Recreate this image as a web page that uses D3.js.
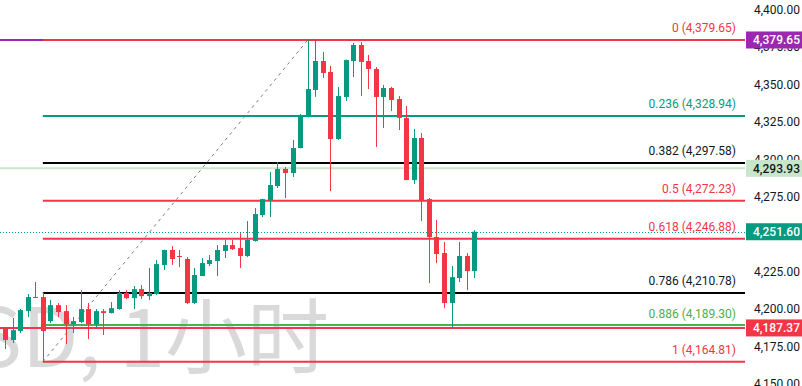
<!DOCTYPE html>
<html>
<head>
<meta charset="utf-8">
<script src="https://cdn.jsdelivr.net/npm/d3@7"></script>
<style>
  body { margin: 0; background: #fff; }
  svg { display: block; font-family: Roboto, "Noto Sans CJK SC", sans-serif; }
</style>
</head>
<body>
<div id="chart"></div>
<script>
// candles (hourly)
var openP  = [4175.9,4187.3,4179.3,4185.3,4198.6,4207.6,4208.0,4191.9,4202.6,4198.6,4189.9,4191.3,4200.0,4189.9,4198.6,4197.3,4200.0,4210.7,4207.3,4213.3,4208.6,4210.0,4229.4,4239.4,4235.4,4233.4,4204.0,4222.0,4230.0,4232.0,4238.7,4242.7,4240.7,4235.4,4245.4,4262.8,4272.8,4282.1,4293.5,4290.8,4307.5,4328.2,4346.3,4365.6,4358.3,4313.5,4341.6,4365.6,4376.3,4365.6,4360.3,4341.6,4347.6,4340.2,4327.6,4286.1,4314.2,4273.4,4248.1,4237.4,4204.0,4220.7,4235.4,4225.3];
var highP  = [4188.6,4187.9,4194.0,4200.0,4210.0,4218.0,4211.0,4206.0,4204.0,4202.6,4194.6,4212.6,4204.0,4200.0,4200.0,4204.6,4212.6,4212.6,4215.3,4216.0,4227.4,4232.7,4239.6,4242.0,4239.4,4234.7,4227.4,4234.0,4236.0,4242.7,4246.1,4246.1,4250.7,4258.7,4267.4,4273.6,4291.5,4298.2,4294.8,4312.9,4330.2,4379.65,4379.5,4371.6,4362.3,4348.3,4366.5,4377.7,4378.3,4369.6,4361.6,4349.6,4348.3,4342.2,4335.6,4320.2,4317.5,4274.1,4259.4,4244.7,4228.7,4244.7,4237.4,4252.7];
var lowP   = [4173.9,4173.3,4177.3,4183.9,4194.6,4207.4,4164.81,4190.6,4194.6,4176.6,4183.9,4190.6,4179.9,4187.3,4182.6,4197.0,4199.6,4206.6,4200.0,4206.6,4206.0,4209.3,4226.0,4229.4,4228.0,4203.3,4203.3,4222.0,4228.7,4222.0,4234.0,4239.4,4227.4,4234.7,4245.0,4261.4,4261.4,4280.8,4274.1,4288.1,4307.3,4328.0,4341.6,4354.3,4278.8,4312.9,4338.9,4354.9,4342.2,4346.9,4308.2,4320.9,4332.2,4319.5,4286.0,4283.5,4258.7,4217.3,4230.7,4200.6,4187.3,4218.0,4212.6,4220.7];
var closeP = [4185.9,4179.3,4185.9,4199.3,4208.0,4208.0,4185.3,4202.6,4198.0,4189.9,4191.9,4200.0,4189.9,4198.6,4197.3,4200.6,4210.7,4207.3,4213.3,4208.6,4210.7,4230.0,4239.4,4233.4,4235.0,4204.0,4222.7,4230.7,4232.7,4239.4,4242.7,4240.0,4235.4,4246.1,4263.4,4273.4,4282.8,4293.5,4290.8,4307.5,4328.9,4346.9,4365.6,4357.6,4313.5,4342.2,4366.3,4376.3,4365.0,4360.3,4341.6,4347.6,4339.6,4327.6,4286.1,4314.2,4272.1,4248.1,4236.7,4204.0,4221.3,4235.4,4225.3,4251.6];

// fibonacci retracement
var fibRatios = [0, 0.236, 0.382, 0.5, 0.618, 0.786, 0.886, 1];
var fibPrices = [4379.65, 4328.94, 4297.58, 4272.23, 4246.88, 4210.78, 4189.30, 4164.81];
var fibColors = ["#f23645", "#089981", "#000000", "#f23645", "#f23645", "#000000", "#4caf50", "#f23645"];
var fibTextColors = ["#f23645", "#089981", "#131722", "#f23645", "#f23645", "#131722", "#4caf50", "#f23645"];
var swingLowIdx = 6, swingHighIdx = 41;

// price lines / tags on the axis
var tagPrices = [4379.65, 4293.93, 4251.60, 4187.37];
var tagFill   = ["#9c27b0", "#c8e6c9", "#089981", "#f23645"];
var tagText   = ["#ffffff", "#131722", "#ffffff", "#ffffff"];

var yTicks = [4150, 4175, 4200, 4225, 4250, 4275, 4300, 4325, 4350, 4375, 4400];

var width = 802, height = 386, plotRight = 745;
var upColor = "#089981", downColor = "#f23645";

var x = d3.scaleLinear().domain([0, openP.length - 1]).range([-2.57, 474.3]);
var y = d3.scaleLinear().domain([4150, 4400]).range([383.9, 9.5]);
var fmt = d3.format(",.2f");

var svg = d3.select("#chart").append("svg")
  .attr("width", width).attr("height", height);

svg.append("defs").append("clipPath").attr("id", "plot")
  .append("rect").attr("x", 0).attr("y", 0).attr("width", plotRight).attr("height", height);

// watermark
svg.append("text")
  .attr("x", 329).attr("y", 367)
  .attr("text-anchor", "end")
  .attr("font-family", "'Noto Sans CJK SC', sans-serif")
  .attr("font-size", 82)
  .attr("fill", "#d9d9d9")
  .text("XAUUSD, 1小时");

var plot = svg.append("g").attr("clip-path", "url(#plot)");

// full width price lines
plot.append("line").attr("x1", 0).attr("x2", plotRight)
  .attr("y1", y(tagPrices[0])).attr("y2", y(tagPrices[0]))
  .attr("stroke", tagFill[0]).attr("stroke-width", 2);
plot.append("line").attr("x1", 0).attr("x2", plotRight)
  .attr("y1", y(tagPrices[1])).attr("y2", y(tagPrices[1]))
  .attr("stroke", tagFill[1]).attr("stroke-width", 2);
plot.append("line").attr("x1", 0).attr("x2", plotRight)
  .attr("y1", Math.round(y(tagPrices[2])) + 0.5).attr("y2", Math.round(y(tagPrices[2])) + 0.5)
  .attr("stroke", tagFill[2]).attr("stroke-width", 1).attr("stroke-dasharray", "1,2");
plot.append("line").attr("x1", 0).attr("x2", plotRight)
  .attr("y1", y(tagPrices[3])).attr("y2", y(tagPrices[3]))
  .attr("stroke", tagFill[3]).attr("stroke-width", 2);

// fib levels
var fibX0 = x(swingLowIdx);
plot.selectAll("line.fib").data(fibPrices).join("line")
  .attr("class", "fib")
  .attr("x1", fibX0).attr("x2", plotRight)
  .attr("y1", d => y(d)).attr("y2", d => y(d))
  .attr("stroke", (d, i) => fibColors[i]).attr("stroke-width", 2);

svg.selectAll("text.fib").data(fibPrices).join("text")
  .attr("class", "fib")
  .attr("x", 736).attr("y", d => y(d) - 7.5)
  .attr("text-anchor", "end")
  .attr("font-size", 12)
  .attr("fill", (d, i) => fibTextColors[i])
  .text((d, i) => fibRatios[i] + " (" + fmt(d) + ")");

// trend line
plot.append("line")
  .attr("x1", x(swingLowIdx)).attr("y1", y(lowP[swingLowIdx]))
  .attr("x2", x(swingHighIdx)).attr("y2", y(highP[swingHighIdx]))
  .attr("stroke", "#787b86").attr("stroke-width", 1).attr("stroke-dasharray", "3,4");

// candles
var idx = d3.range(openP.length);
var bodyW = 5;
var candles = plot.append("g").selectAll("g").data(idx).join("g")
  .attr("fill", i => closeP[i] >= openP[i] ? upColor : downColor)
  .attr("stroke", i => closeP[i] >= openP[i] ? upColor : downColor);

candles.append("line")
  .attr("x1", i => Math.round(x(i)) + 0.5).attr("x2", i => Math.round(x(i)) + 0.5)
  .attr("y1", i => y(highP[i])).attr("y2", i => y(lowP[i]))
  .attr("stroke-width", 1);

candles.append("rect")
  .attr("x", i => Math.round(x(i)) + 0.5 - bodyW / 2)
  .attr("width", bodyW)
  .attr("y", i => y(Math.max(openP[i], closeP[i])))
  .attr("height", i => Math.max(1, Math.abs(y(openP[i]) - y(closeP[i]))))
  .attr("stroke", "none");

// right axis
var axis = svg.append("g").attr("transform", "translate(" + width + ",0)")
  .call(d3.axisLeft(y).tickValues(yTicks).tickFormat(fmt).tickSize(0).tickPadding(2));
axis.select(".domain").remove();
axis.selectAll("text").attr("font-size", 12).attr("fill", "#131722")
  .attr("font-family", "Roboto, sans-serif");

// price tags
var tags = svg.append("g").selectAll("g").data(tagPrices).join("g")
  .attr("transform", d => "translate(746," + y(d) + ")");
tags.append("rect")
  .attr("x", 0).attr("y", -8.5).attr("width", 56).attr("height", 17)
  .attr("fill", (d, i) => tagFill[i]);
tags.append("text")
  .attr("x", 54).attr("y", 0).attr("dy", "0.35em")
  .attr("text-anchor", "end")
  .attr("font-size", 12).attr("font-weight", 500)
  .attr("fill", (d, i) => tagText[i])
  .text(d => fmt(d));
</script>
</body>
</html>
